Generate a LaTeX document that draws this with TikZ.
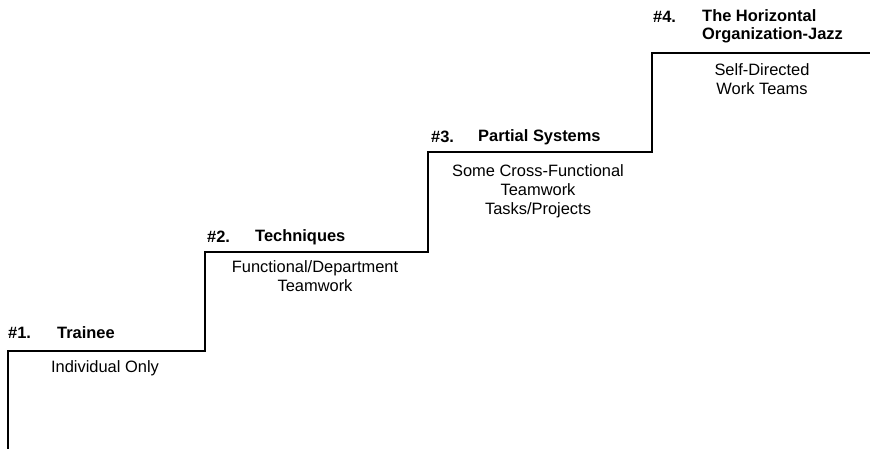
\documentclass[tikz,border=0pt]{standalone}
\usepackage{fontspec}
\setmainfont{Liberation Sans}
\begin{document}
\begin{tikzpicture}[x=1bp,y=1bp,
  stair/.style={line width=2bp, line join=miter},
  num/.style={anchor=west, inner sep=0pt, font=\fontsize{16.5}{18}\selectfont\bfseries},
  title/.style={anchor=west, inner sep=0pt, align=left, font=\fontsize{16.5}{18}\selectfont\bfseries},
  desc/.style={inner sep=0pt, align=center, font=\fontsize{16.5}{19}\selectfont}]
  \useasboundingbox (0,0) rectangle (870,449);
  % corners of the staircase
  \coordinate (s0) at (8,0);
  \coordinate (s1) at (8,98);
  \coordinate (s2) at (205,98);
  \coordinate (s3) at (205,197);
  \coordinate (s4) at (428,197);
  \coordinate (s5) at (428,297);
  \coordinate (s6) at (652,297);
  \coordinate (s7) at (652,396);
  \coordinate (s8) at (870,396);
  \draw[stair] (s0) -- (s1) -- (s2) -- (s3) -- (s4) -- (s5) -- (s6) -- (s7) -- (s8);
  % step 1
  \node[num] (n1) at (8,116) {\#1.};
  \node[num] (t1) at (57,116) {Trainee};
  \node[desc] (d1) at (105,81) {Individual Only};
  % step 2
  \node[num] (n2) at (207,212) {\#2.};
  \node[num] (t2) at (255,212) {Techniques};
  \node[desc] (d2) at (315,172.5) {Functional/Department\\Teamwork};
  % step 3
  \node[num] (n3) at (431,312) {\#3.};
  \node[num] (t3) at (478,312) {Partial Systems};
  \node[desc] (d3) at (538,258) {Some Cross-Functional\\Teamwork\\Tasks/Projects};
  % step 4
  \node[num] (n4) at (653,432) {\#4.};
  \node[title] (t4) at (702,423) {The Horizontal\\Organization-Jazz};
  \node[desc] (d4) at (762,369.5) {Self-Directed\\Work Teams};
\end{tikzpicture}
\end{document}
